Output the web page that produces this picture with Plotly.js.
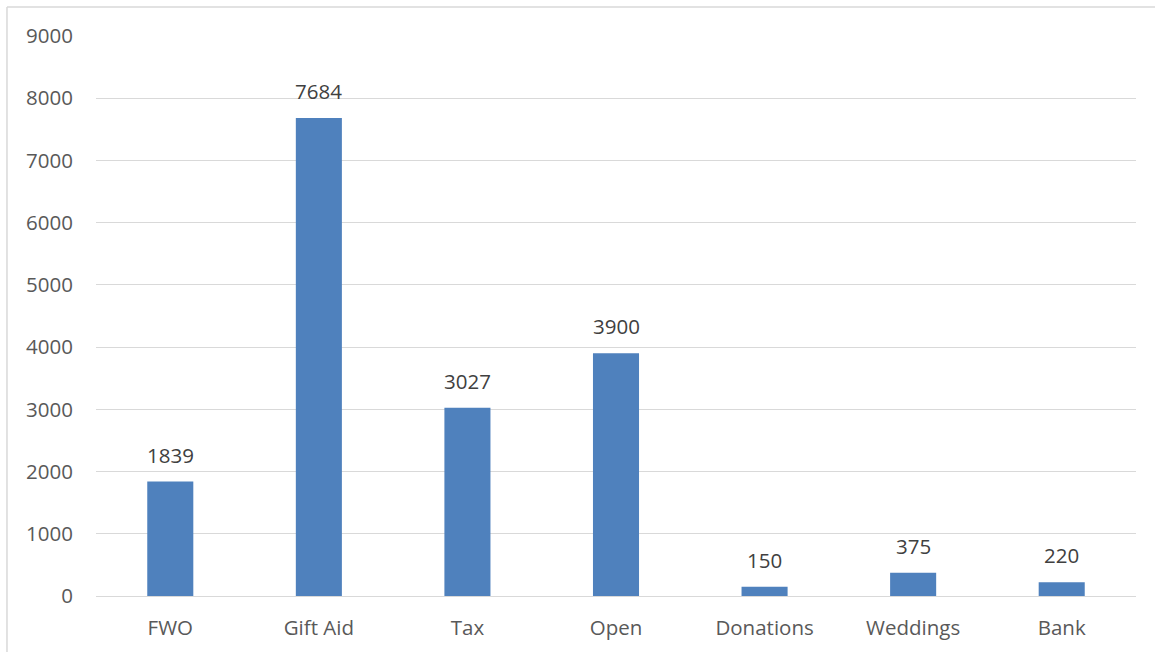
<!DOCTYPE html>
<html>
<head>
<meta charset="utf-8">
<script src="https://cdn.plot.ly/plotly-3.0.1.min.js"></script>
<style>
  html, body { margin: 0; padding: 0; background: #fff; }
  #chart { width: 1155px; height: 652px; }
</style>
</head>
<body>
<div id="chart"></div>
<script>
const categories = ["FWO", "Gift Aid", "Tax", "Open", "Donations", "Weddings", "Bank"];
const values = [1839, 7684, 3027, 3900, 150, 375, 220];
const yTicks = [0, 1000, 2000, 3000, 4000, 5000, 6000, 7000, 8000, 9000];

const fontFam = "Open Sans, Liberation Sans, sans-serif";

const trace = {
  type: "bar",
  x: categories,
  y: values,
  marker: { color: "#4f81bd", line: { width: 0 } },
  hoverinfo: "x+y"
};

const annotations = categories.map((c, i) => ({
  x: c,
  y: values[i],
  xref: "x",
  yref: "y",
  text: String(values[i]),
  showarrow: false,
  yanchor: "bottom",
  yshift: 11,
  font: { family: fontFam, size: 20.5, color: "#404040" }
}));

const layout = {
  width: 1155,
  height: 652,
  margin: { l: 96, r: 19, t: 36, b: 56 },
  paper_bgcolor: "#ffffff",
  plot_bgcolor: "#ffffff",
  showlegend: false,
  bargap: 0.69,
  xaxis: {
    type: "category",
    showgrid: false,
    showline: false,
    zeroline: false,
    ticks: "",
    ticklabelstandoff: 17,
    tickfont: { family: fontFam, size: 20.5, color: "#595959" }
  },
  yaxis: {
    range: [0, 9000],
    tickvals: yTicks,
    ticktext: yTicks.map(String),
    showgrid: true,
    gridcolor: "#d9d9d9",
    gridwidth: 1.3,
    zeroline: true,
    zerolinecolor: "#d9d9d9",
    zerolinewidth: 1.3,
    showline: false,
    ticks: "",
    ticklabelstandoff: 22,
    tickfont: { family: fontFam, size: 20.5, color: "#595959" }
  },
  annotations: annotations,
  shapes: [
    { type: "line", xref: "paper", yref: "paper", x0: -0.0856, x1: 1.2, y0: 1.0518, y1: 1.0518, line: { color: "#d9d9d9", width: 1.5 } },
    { type: "line", xref: "paper", yref: "paper", x0: -0.0856, x1: -0.0856, y0: -0.2, y1: 1.0518, line: { color: "#d9d9d9", width: 1.5 } }
  ]
};

Plotly.newPlot("chart", [trace], layout, { displayModeBar: false, responsive: false });
</script>
</body>
</html>
